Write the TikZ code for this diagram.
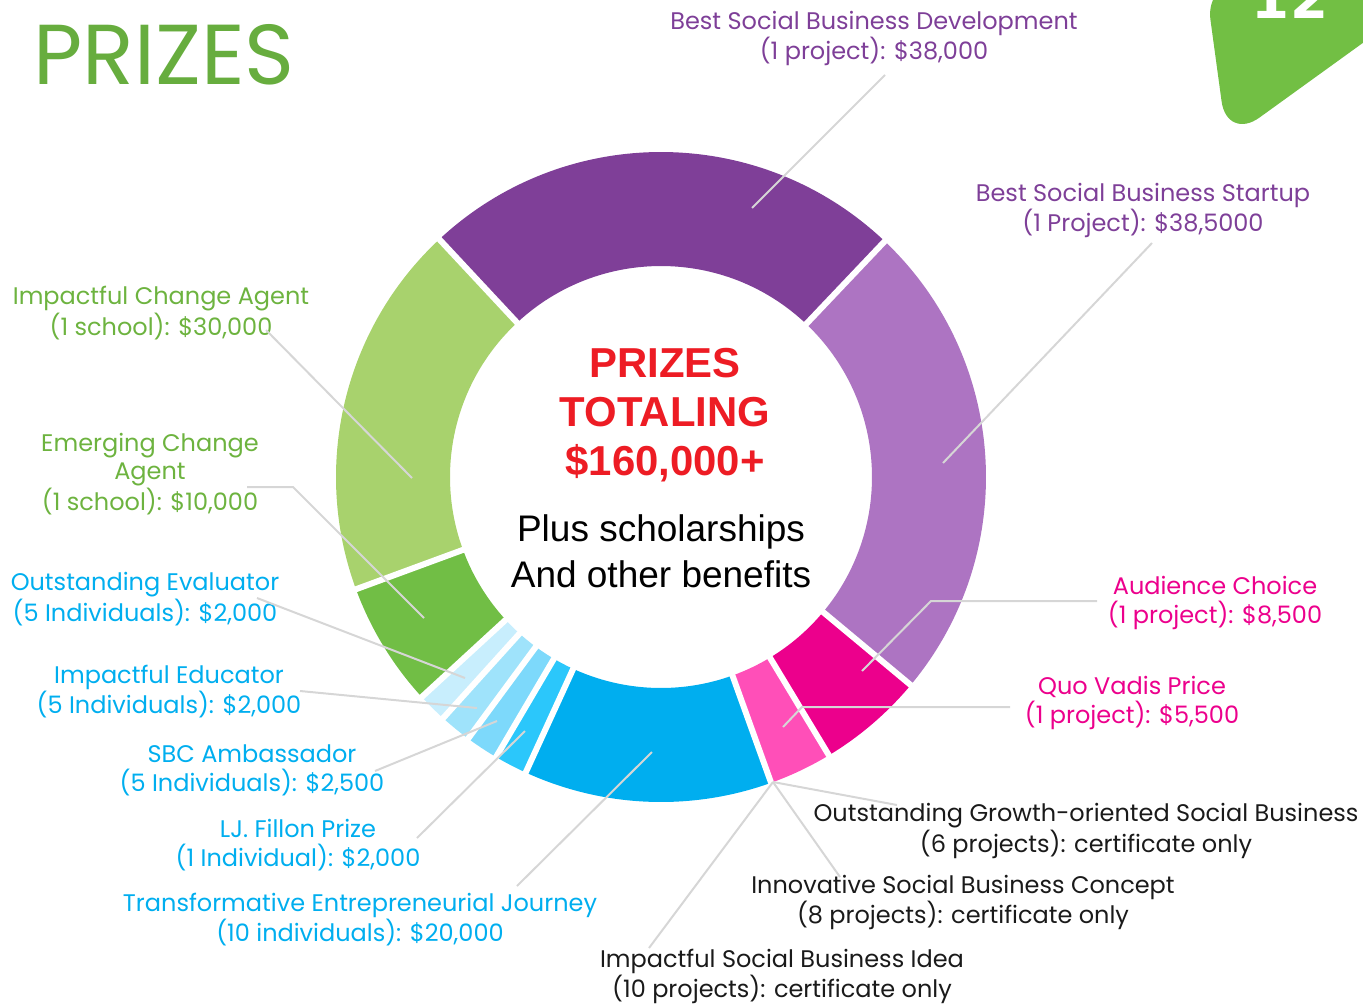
\documentclass[tikz,border=0pt]{standalone}
\usepackage{fontspec}
\setmainfont{Poppins}
\newfontfamily\arialfont{Liberation Sans}
\newfontfamily\digitfont{DejaVu Sans}
\usetikzlibrary{calc}
\definecolor{purpleD}{HTML}{7F3F98}
\definecolor{purpleL}{HTML}{AD74C2}
\definecolor{magentaA}{HTML}{EC008C}
\definecolor{pinkQ}{HTML}{FF4FB8}
\definecolor{blueM}{HTML}{00AEEF}
\definecolor{blueA}{HTML}{2BC7FB}
\definecolor{blueB}{HTML}{7DD9FB}
\definecolor{blueC}{HTML}{9FE3FB}
\definecolor{blueD}{HTML}{C8EEFD}
\definecolor{greenD}{HTML}{71BE45}
\definecolor{greenL}{HTML}{A8D26D}
\definecolor{titlegreen}{HTML}{67AD3E}
\definecolor{lblgreen}{HTML}{6DB33F}
\definecolor{lblpurple}{HTML}{7E3F98}
\definecolor{redT}{HTML}{ED1C24}
\definecolor{leadgray}{HTML}{D6D6D6}
\definecolor{tabgreen}{HTML}{72BF44}
\definecolor{textdark}{HTML}{1A1A1A}
\newcommand\ringseg[3]{\fill[#1] ($(C)+(#2:325)$) arc[start angle=#2,end angle=#3,radius=325] -- ($(C)+(#3:211)$) arc[start angle=#3,end angle=#2,radius=211] -- cycle;}
\newcommand\ringsep[1]{\draw[sepline] ($(C)+(#1:205)$) -- ($(C)+(#1:331)$);}
\begin{document}
\begin{tikzpicture}[x=0.75pt,y=0.75pt,
  lbl/.style={align=center, anchor=base, inner sep=0pt, font=\fontsize{18pt}{21.4pt}\selectfont},
  leader/.style={draw=leadgray, line width=1.5pt},
  sepline/.style={draw=white, line width=4.5pt}]
\useasboundingbox (0,0) rectangle (1363,-1004);
% corner tab
\fill[tabgreen, rounded corners=30pt] (1205,20) -- (1227,-141) -- (1450,20) -- cycle;
\node[anchor=base, inner sep=0pt, text=white, font=\digitfont\bfseries\fontsize{41pt}{41pt}\selectfont] (num) at (1290,-18) {12};
% title
\node[anchor=base west, inner sep=0pt, text=titlegreen, font=\fontsize{63.8pt}{64pt}\selectfont] (title) at (33,-84) {PRIZES};
% ring
\coordinate (C) at (661,-477);
\ringseg{purpleD}{46.5}{133}
\ringseg{purpleL}{-39.8}{46.5}
\ringseg{magentaA}{-58.9}{-39.8}
\ringseg{pinkQ}{-70.2}{-58.9}
\ringseg{blueM}{-114.6}{-70.2}
\ringseg{blueA}{-120.5}{-114.6}
\ringseg{blueB}{-126.4}{-120.5}
\ringseg{blueC}{-132.1}{-126.4}
\ringseg{blueD}{-137.4}{-132.1}
\ringseg{greenD}{-159.8}{-137.4}
\ringseg{greenL}{133}{200.2}
\foreach \a in {46.5,133,-39.8,-58.9,-70.2,-114.6,-120.5,-126.4,-132.1,-137.4,-159.8}{\ringsep{\a}}
% centre text
\node[align=center, anchor=base, inner sep=0pt, text=redT, font=\arialfont\bfseries\fontsize{31.4pt}{36.75pt}\selectfont] (total) at (665,-475) {PRIZES\\TOTALING\\\$160,000+};
\node[align=center, anchor=base, inner sep=0pt, text=black, font=\arialfont\fontsize{27.75pt}{34.5pt}\selectfont] (plus) at (661,-587) {Plus scholarships\\And other benefits};
% labels
\node[lbl, text=lblpurple] (l1) at (874,-59) {Best Social Business Development\\(1 project): \$38,000};
\node[lbl, text=lblpurple] (l2) at (1143,-231) {Best Social Business Startup\\(1 Project): \$38,5000};
\node[lbl, text=lblgreen] (l3) at (161,-335) {Impactful Change Agent\\(1 school): \$30,000};
\node[lbl, text=lblgreen] (l4) at (150,-510) {Emerging Change\\Agent\\(1 school): \$10,000};
\node[lbl, text=blueM] (l5) at (145,-621) {Outstanding Evaluator\\(5 Individuals): \$2,000};
\node[lbl, text=blueM] (l6) at (169,-713) {Impactful Educator\\(5 Individuals): \$2,000};
\node[lbl, text=blueM] (l7) at (252,-791) {SBC Ambassador\\(5 Individuals): \$2,500};
\node[lbl, text=blueM] (l8) at (298,-866) {LJ. Fillon Prize\\(1 Individual): \$2,000};
\node[lbl, text=blueM] (l9) at (360,-941) {Transformative Entrepreneurial Journey\\(10 individuals): \$20,000};
\node[lbl, text=magentaA] (l10) at (1215,-623) {Audience Choice\\(1 project): \$8,500};
\node[lbl, text=magentaA] (l11) at (1132,-723) {Quo Vadis Price\\(1 project): \$5,500};
\node[lbl, text=textdark] (l12) at (1086,-852) {Outstanding Growth-oriented Social Business\\(6 projects): certificate only};
\node[lbl, text=textdark] (l13) at (963,-923) {Innovative Social Business Concept\\(8 projects): certificate only};
\node[lbl, text=textdark] (l14) at (782,-997) {Impactful Social Business Idea\\(10 projects): certificate only};
% leader coordinates
\coordinate (a1) at (885,-75);   \coordinate (b1) at (752,-208);
\coordinate (a2) at (1152,-243); \coordinate (b2) at (943,-463);
\coordinate (a3) at (266,-330);  \coordinate (b3) at (412,-478);
\coordinate (a4) at (247,-487);  \coordinate (k4) at (293,-487); \coordinate (b4) at (424,-618);
\coordinate (a5) at (257,-598);  \coordinate (b5) at (465,-678);
\coordinate (a6) at (300,-691);  \coordinate (b6) at (477,-708);
\coordinate (a7) at (375,-771);  \coordinate (b7) at (497,-721);
\coordinate (a8) at (417,-838);  \coordinate (b8) at (525,-731);
\coordinate (a9) at (517,-886);  \coordinate (b9) at (652,-752);
\coordinate (a10) at (1097,-601); \coordinate (k10) at (931,-601); \coordinate (b10) at (862,-671);
\coordinate (a11) at (1010,-707); \coordinate (k11) at (802,-707); \coordinate (b11) at (783,-727);
\coordinate (piv) at (773,-782);
\coordinate (a12) at (897,-805);
\coordinate (a13) at (840,-877);
\coordinate (a14) at (649,-948);
\draw[leader] (a1) -- (b1);
\draw[leader] (a2) -- (b2);
\draw[leader] (a3) -- (b3);
\draw[leader] (a4) -- (k4) -- (b4);
\draw[leader] (a5) -- (b5);
\draw[leader] (a6) -- (b6);
\draw[leader] (a7) -- (b7);
\draw[leader] (a8) -- (b8);
\draw[leader] (a9) -- (b9);
\draw[leader] (a10) -- (k10) -- (b10);
\draw[leader] (a11) -- (k11) -- (b11);
\draw[leader] (a12) -- (piv);
\draw[leader] (a13) -- (piv);
\draw[leader] (a14) -- (piv);
\end{tikzpicture}
\end{document}
